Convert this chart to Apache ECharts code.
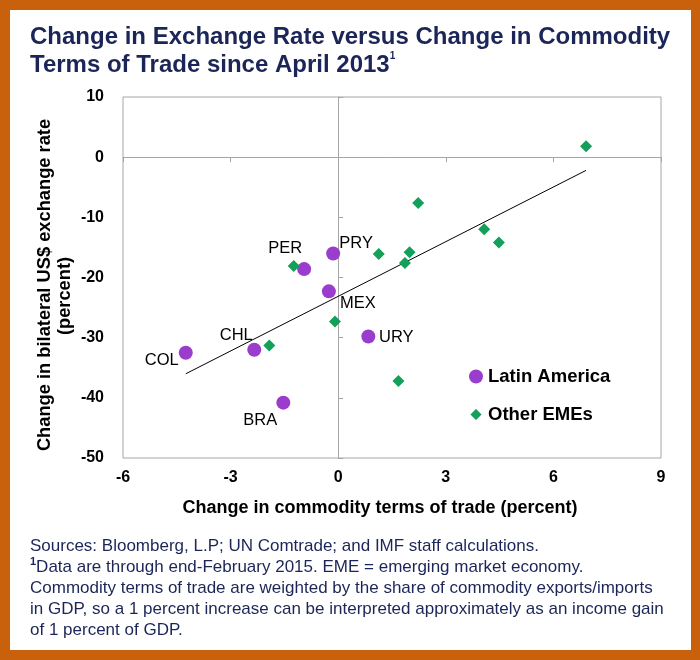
<!DOCTYPE html>
<html><head><meta charset="utf-8">
<script src="https://cdn.jsdelivr.net/npm/echarts@6/dist/echarts.min.js"></script>
<style>
html,body{margin:0;padding:0;background:#fff}
#frame{position:relative;width:700px;height:660px;background:#C9600C}
#inner{position:absolute;left:10px;top:10px;width:681px;height:640px;background:#fff}
#c{position:absolute;left:0;top:0;width:700px;height:660px}
</style>
</head><body>
<div id="frame"><div id="inner"></div><div id="c"></div></div>
<script>
// ---- data ----
const xTicks = [-6, -3, 0, 3, 6, 9];
const yTicks = [-50, -40, -30, -20, -10, 0, 10];
const latamNames = ['COL', 'CHL', 'BRA', 'MEX', 'PER', 'PRY', 'URY'];
const latamX = [-4.25, -2.34, -1.53, -0.26, -0.95, -0.14, 0.84];
const latamY = [-32.5, -32.0, -40.8, -22.3, -18.6, -16.0, -29.8];
const otherX = [-1.92, -1.24, -0.09, 1.13, 1.68, 1.86, 1.99, 2.23, 4.07, 4.48, 6.91];
const otherY = [-31.3, -18.1, -27.3, -16.1, -37.2, -17.6, -15.8, -7.6, -12.0, -14.2, 1.8];
const trendX = [-4.25, 6.91];
const trendY = [-36.0, -2.2];
const seriesNames = ['Latin America', 'Other EMEs'];

// ---- styling ----
const FF = '"Liberation Sans", Arial, sans-serif';
const NAVY = '#1B2557';
const PURPLE = '#9A3DCC';
const GREEN = '#12A05A';
const labelOffset = {PER: [-19, -21], PRY: [23, -10], MEX: [29, 12], CHL: [-18, -14], COL: [-24, 8], BRA: [-23, 18], URY: [28, 1]};

const latamData = latamNames.map((n, i) => ({
  name: n, value: [latamX[i], latamY[i]],
  label: {offset: labelOffset[n]}
}));
const otherData = otherX.map((x, i) => [x, otherY[i]]);
const trendData = trendX.map((x, i) => [x, trendY[i]]);

const xMin = xTicks[0], xMax = xTicks[xTicks.length - 1], xInt = xTicks[1] - xTicks[0];
const yMin = yTicks[0], yMax = yTicks[yTicks.length - 1], yInt = yTicks[1] - yTicks[0];

const tickLabel = {fontFamily: FF, fontSize: 16, fontWeight: 'bold', color: '#000'};

const chart = echarts.init(document.getElementById('c'), null, {renderer: 'canvas'});
chart.setOption({
  animation: false,
  backgroundColor: 'transparent',
  title: {
    left: 30, top: 23, padding: 0,
    text: 'Change in Exchange Rate versus Change in Commodity\nTerms of Trade since April 2013{sup|1}',
    textStyle: {
      fontFamily: FF, fontSize: 24, fontWeight: 'bold', color: NAVY, lineHeight: 28,
      rich: {sup: {fontFamily: FF, fontSize: 10, fontWeight: 'bold', color: NAVY, verticalAlign: 'top', lineHeight: 14}}
    }
  },
  grid: {left: 123, top: 97, right: 39, bottom: 202, show: true, borderColor: '#A6A6A6', borderWidth: 1, containLabel: false},
  legend: {
    data: [
      {name: seriesNames[0]},
      {name: seriesNames[1], itemStyle: {borderColor: '#fff', borderWidth: 2}}
    ],
    orient: 'vertical', left: 468, top: 367, padding: 0, itemWidth: 14, itemHeight: 14, itemGap: 19,
    selectedMode: false,
    textStyle: {fontFamily: FF, fontSize: 18.5, fontWeight: 'bold', color: '#000'}
  },
  xAxis: [
    {type: 'value', min: xMin, max: xMax, interval: xInt, position: 'bottom',
     axisLine: {show: false, onZero: false}, axisTick: {show: false}, splitLine: {show: false},
     axisLabel: Object.assign({margin: 12}, tickLabel)},
    {type: 'value', min: xMin, max: xMax, interval: xInt, position: 'bottom',
     axisLine: {show: true, onZero: true, lineStyle: {color: '#A6A6A6', width: 1}},
     axisTick: {show: true, inside: false, length: 5, lineStyle: {color: '#A6A6A6'}},
     axisLabel: {show: false}, splitLine: {show: false}}
  ],
  yAxis: [
    {type: 'value', min: yMin, max: yMax, interval: yInt, position: 'left',
     axisLine: {show: false, onZero: false}, axisTick: {show: false}, splitLine: {show: false},
     axisLabel: Object.assign({margin: 19}, tickLabel)},
    {type: 'value', min: yMin, max: yMax, interval: yInt, position: 'left',
     axisLine: {show: true, onZero: true, lineStyle: {color: '#A6A6A6', width: 1}},
     axisTick: {show: true, inside: true, length: 5, lineStyle: {color: '#A6A6A6'}},
     axisLabel: {show: false}, splitLine: {show: false}}
  ],
  series: [
    {type: 'line', name: 'trend', data: trendData, xAxisIndex: 0, yAxisIndex: 0,
     showSymbol: false, symbol: 'none', lineStyle: {color: '#000', width: 1}, z: 1, silent: true},
    {type: 'scatter', name: seriesNames[0], data: latamData, xAxisIndex: 0, yAxisIndex: 0,
     symbol: 'circle', symbolSize: 14, itemStyle: {color: PURPLE, opacity: 1}, z: 3,
     label: {show: true, position: 'inside', formatter: '{b}', fontFamily: FF, fontSize: 16.5, color: '#000'},
     emphasis: {disabled: true}},
    {type: 'scatter', name: seriesNames[1], data: otherData, xAxisIndex: 0, yAxisIndex: 0,
     symbol: 'diamond', symbolSize: 12, itemStyle: {color: GREEN, opacity: 1}, z: 3,
     emphasis: {disabled: true}}
  ],
  graphic: [
    {type: 'text', x: 45, y: 285, rotation: Math.PI / 2,
     style: {text: 'Change in bilateral US$ exchange rate', fontFamily: FF, fontSize: 18.3, fontWeight: 'bold', fill: '#000', align: 'center', verticalAlign: 'middle'}},
    {type: 'text', x: 65, y: 296, rotation: Math.PI / 2,
     style: {text: '(percent)', fontFamily: FF, fontSize: 18.3, fontWeight: 'bold', fill: '#000', align: 'center', verticalAlign: 'middle'}},
    {type: 'text', x: 380, y: 508,
     style: {text: 'Change in commodity terms of trade (percent)', fontFamily: FF, fontSize: 18, fontWeight: 'bold', fill: '#000', align: 'center', verticalAlign: 'middle'}},
    {type: 'text', x: 30, y: 546,
     style: {text: 'Sources: Bloomberg, L.P; UN Comtrade; and IMF staff calculations.', fontFamily: FF, fontSize: 17, fill: NAVY, align: 'left', verticalAlign: 'middle'}},
    {type: 'text', x: 30, y: 556.5,
     style: {
       text: '{s|1}Data are through end-February 2015. EME = emerging market economy.\nCommodity terms of trade are weighted by the share of commodity exports/imports\nin GDP, so a 1 percent increase can be interpreted approximately as an income gain\nof 1 percent of GDP.',
       fontFamily: FF, fontSize: 17, fill: NAVY, align: 'left', verticalAlign: 'top', lineHeight: 21,
       rich: {s: {fontFamily: FF, fontSize: 11, fontWeight: 'bold', fill: NAVY, verticalAlign: 'top', lineHeight: 14}}
     }}
  ]
});
</script>
</body></html>
